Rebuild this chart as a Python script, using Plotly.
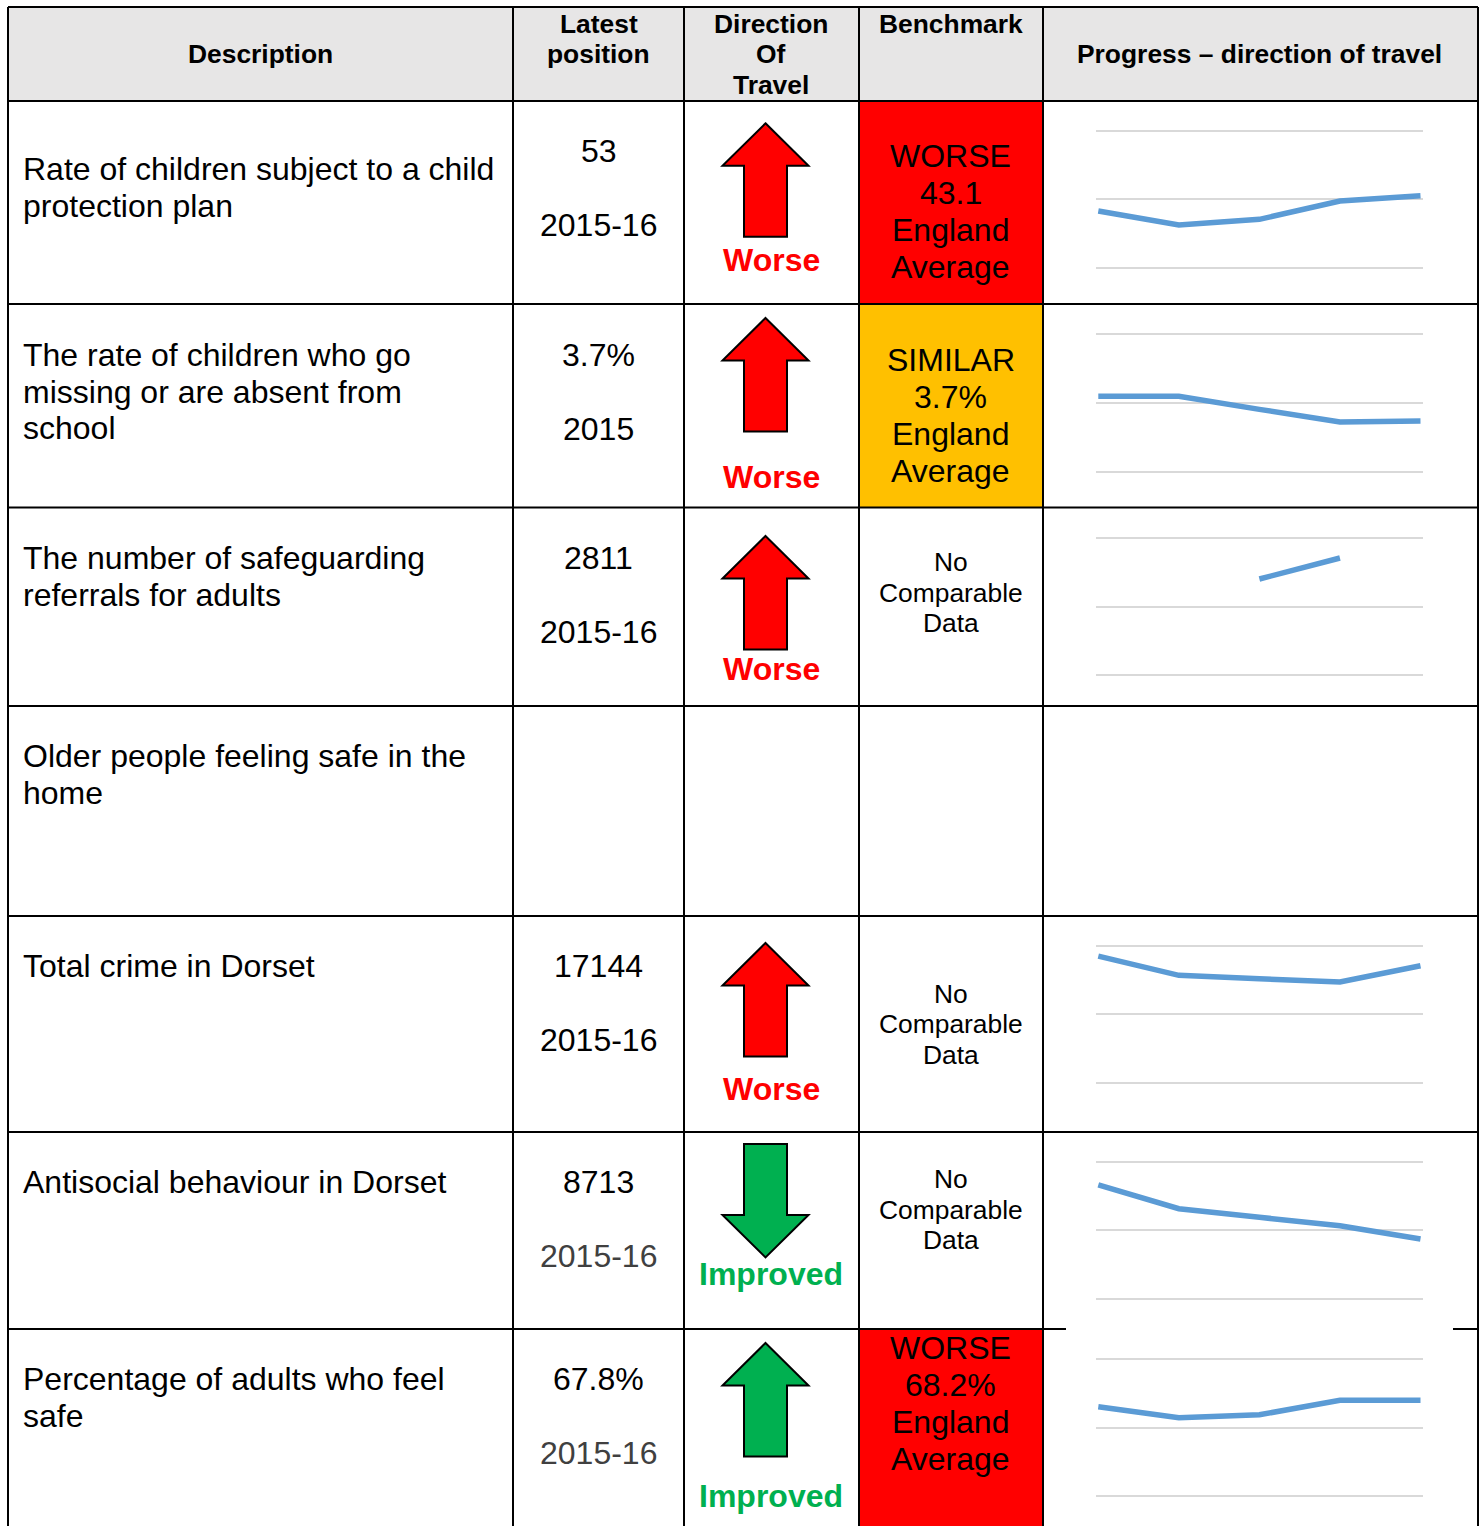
import plotly.graph_objects as go

W, H = 1484, 1526
FONT = "Arial, 'Liberation Sans', sans-serif"

# ---------------- data ----------------
headers = [["Description"], ["Latest", "position"], ["Direction", "Of", "Travel"],
           ["Benchmark"], ["Progress \u2013 direction of travel"]]

descriptions = [
    ["Rate of children subject to a child", "protection plan"],
    ["The rate of children who go", "missing or are absent from", "school"],
    ["The number of safeguarding", "referrals for adults"],
    ["Older people feeling safe in the", "home"],
    ["Total crime in Dorset"],
    ["Antisocial behaviour in Dorset"],
    ["Percentage of adults who feel", "safe"],
]
latest_values = ["53", "3.7%", "2811", "", "17144", "8713", "67.8%"]
latest_periods = ["2015-16", "2015", "2015-16", "", "2015-16", "2015-16", "2015-16"]
directions = ["Worse", "Worse", "Worse", "", "Worse", "Improved", "Improved"]
arrow_dirs = ["up", "up", "up", None, "up", "down", "up"]
benchmark_status = ["WORSE", "SIMILAR", None, None, None, None, "WORSE"]
benchmark_values = ["43.1", "3.7%", None, None, None, None, "68.2%"]

years = [0, 1, 2, 3, 4]
trend_child_protection = [41.4, 31.2, 35.3, 48.7, 52.6]
trend_missing_children = [5.49, 5.49, 4.54, 3.62, 3.70]
trend_safeguarding = [None, None, 2811, 3425, None]
trend_total_crime = [18490, 15680, 15190, 14710, 17079]
trend_antisocial = [16640, 13150, 11900, 10670, 8736]
trend_adults_safe = [65.2, 57.2, 59.3, 69.8, 69.8]
trends = [trend_child_protection, trend_missing_children, trend_safeguarding, None,
          trend_total_crime, trend_antisocial, trend_adults_safe]
trend_axis_max = [100, 10, 4000, None, 20000, 20000, 100]

# ---------------- layout (pixels) ----------------
col_x = [8, 513, 684, 859, 1043, 1478]
row_y = [7, 101, 304, 507.5, 706, 916, 1132, 1329, 1526]

desc_first = [169, 355, 558, 756, 966, 1182, 1379]
desc_pitch = 36.7
latest_first = [151, 355, 558, None, 966, 1182, 1379]
latest_gap = 73.5
arrow_top = [123.3, 318, 536, None, 943, 1144, 1343]
dir_label_y = [260, 477, 669, None, 1089, 1274, 1496]
bench_y = [[156, 193, 230, 267], [360, 397, 434, 471], [562, 593, 623], None,
           [994, 1024, 1055], [1179, 1210, 1240], [1348, 1385, 1422, 1459]]
spark_grid = [(130.7, 267.7), (334, 472), (538.3, 675.3), None,
              (945.7, 1083), (1161.7, 1299), (1359, 1496)]
spark_x0, spark_x1 = 1096, 1423.3
pt_x0, pt_x1 = 1098.3, 1420.5


def X(px):
    return px / W


def Y(py):
    return 1 - py / H


fig = go.Figure()
shapes = []
annotations = []


def text(x, y, s, size=32, color="black", bold=False, align="center"):
    annotations.append(dict(
        x=X(x), y=Y(y), xref="paper", yref="paper", text=f"<b>{s}</b>" if bold else s,
        showarrow=False, xanchor={"center": "center", "left": "left"}[align], yanchor="middle",
        font=dict(family=FONT, size=size, color=color), borderpad=0))


def rect(x0, y0, x1, y1, fill):
    shapes.append(dict(type="rect", xref="paper", yref="paper", x0=X(x0), x1=X(x1),
                       y0=Y(y0), y1=Y(y1), fillcolor=fill, line=dict(width=0), layer="below"))


def line(x0, y0, x1, y1):
    shapes.append(dict(type="line", xref="paper", yref="paper", x0=X(x0), x1=X(x1),
                       y0=Y(y0), y1=Y(y1), line=dict(color="black", width=2), layer="above"))


def arrow(cx, top, direction, fill):
    hw, sw, hh, total = 43, 21.5, 42.5, 113.4
    if direction == "up":
        pts = [(cx, top), (cx + hw, top + hh), (cx + sw, top + hh), (cx + sw, top + total),
               (cx - sw, top + total), (cx - sw, top + hh), (cx - hw, top + hh)]
    else:
        b = top + total
        pts = [(cx - sw, top), (cx + sw, top), (cx + sw, b - hh), (cx + hw, b - hh),
               (cx, b), (cx - hw, b - hh), (cx - sw, b - hh)]
    path = "M " + " L ".join(f"{X(a):.6f},{Y(b):.6f}" for a, b in pts) + " Z"
    shapes.append(dict(type="path", xref="paper", yref="paper", path=path, fillcolor=fill,
                       line=dict(color="black", width=2), layer="above"))


# header background
rect(col_x[0], row_y[0], col_x[-1], row_y[1], "#e7e6e6")

# header text
hdr_cx = [260.5, 598.5, 771, 950.5, 1259.5]
hdr_y = [[54], [24, 54], [24, 54, 85], [24], [54]]
for cx, lines, ys in zip(hdr_cx, headers, hdr_y):
    for s, y in zip(lines, ys):
        text(cx, y, s, size=26.4, bold=True)

RED, AMBER, GREEN = "#ff0000", "#ffc000", "#00b050"

for i in range(7):
    top, bot = row_y[i + 1], row_y[i + 2]
    # description
    for k, s in enumerate(descriptions[i]):
        text(21.5, desc_first[i] + k * desc_pitch, s, align="left")
    # latest position
    if latest_values[i]:
        yc = "#404040" if i >= 5 else "black"
        text(598.5, latest_first[i], latest_values[i])
        text(598.5, latest_first[i] + latest_gap, latest_periods[i], color=yc)
    # direction of travel
    if arrow_dirs[i]:
        col = RED if directions[i] == "Worse" else GREEN
        arrow(765.5, arrow_top[i], arrow_dirs[i], col)
        text(771, dir_label_y[i], directions[i], color=col, bold=True)
    # benchmark
    if bench_y[i] is not None:
        if benchmark_status[i]:
            fill = RED if benchmark_status[i] == "WORSE" else AMBER
            rect(col_x[3], top, col_x[4], bot, fill)
            for s, y in zip([benchmark_status[i], benchmark_values[i], "England", "Average"],
                            bench_y[i]):
                text(950.5, y, s)
        else:
            for s, y in zip(["No", "Comparable", "Data"], bench_y[i]):
                text(950.5, y, s, size=26.4)

# grid lines of table
for x in col_x:
    line(x, row_y[0], x, H)
for j, y in enumerate(row_y[:-1]):
    if y == 1329:
        line(col_x[0], y, 1066, y)
        line(1453, y, col_x[-1], y)
    else:
        line(col_x[0], y, col_x[-1], y)

# sparklines
step = (pt_x1 - pt_x0) / 4
xr = [-(pt_x0 - spark_x0) / step, 4 + (spark_x1 - pt_x1) / step]
n = 1
for i in range(7):
    if trends[i] is None:
        continue
    n += 1
    gtop, gbot = spark_grid[i]
    vmax = trend_axis_max[i]
    pad = 6
    per = vmax / (gbot - gtop)
    yr = [-pad * per, vmax + pad * per]
    xa, ya = f"xaxis{n}", f"yaxis{n}"
    fig.add_trace(go.Scatter(x=years, y=trends[i], mode="lines",
                             line=dict(color="#5b9bd5", width=5.5),
                             connectgaps=False, hoverinfo="skip",
                             xaxis=f"x{n}", yaxis=f"y{n}", showlegend=False))
    fig.layout[xa] = dict(domain=[X(spark_x0), X(spark_x1)], range=xr, visible=False,
                          anchor=f"y{n}")
    fig.layout[ya] = dict(domain=[Y(gbot + pad), Y(gtop - pad)], range=yr,
                          tickvals=[0, vmax / 2, vmax], showticklabels=False, ticks="",
                          showgrid=True, gridcolor="#d9d9d9", gridwidth=2,
                          zeroline=False, showline=False, anchor=f"x{n}")

fig.update_layout(width=W, height=H, margin=dict(l=0, r=0, t=0, b=0),
                  paper_bgcolor="white", plot_bgcolor="rgba(0,0,0,0)",
                  shapes=shapes, annotations=annotations, showlegend=False)
fig.layout.xaxis.visible = False
fig.layout.yaxis.visible = False

fig.write_html("out.html", config={"displayModeBar": False},
               post_script="document.body.style.margin='0px';"
                           "document.body.style.overflow='hidden';")
